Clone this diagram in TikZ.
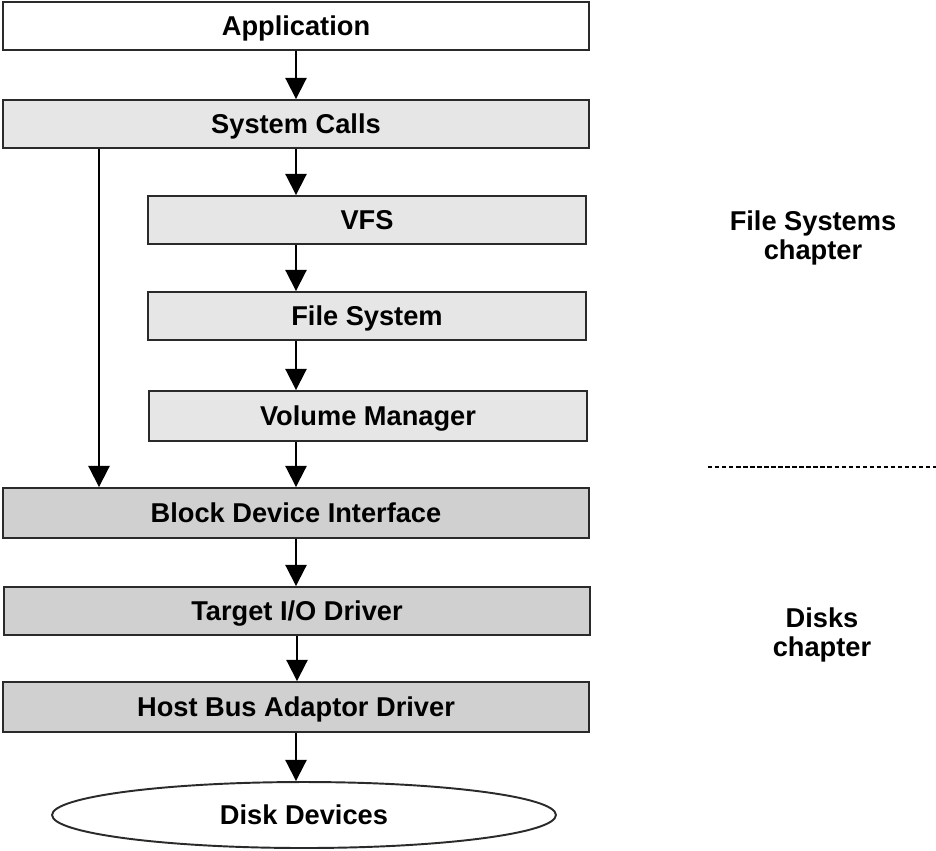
\documentclass[tikz,border=0pt]{standalone}
\usepackage{fontspec}
\setmainfont{Liberation Sans}
\usepackage{tikz}
\usetikzlibrary{arrows.meta,shapes.geometric}
\definecolor{layerlight}{HTML}{E6E6E6}
\definecolor{layerdark}{HTML}{D0D0D0}
\definecolor{edgegray}{HTML}{2A2A2A}
\tikzset{
  layertext/.style={font=\fontsize{15.5}{17}\selectfont\bfseries, text height=11.1pt, text depth=0pt},
  layer/.style={layertext, draw=edgegray, line width=1.1pt, minimum height=0.96cm, inner sep=0pt},
  wide/.style={layer, minimum width=11.72cm},
  narrow/.style={layer, minimum width=8.78cm},
  flow/.style={line width=1.1pt, -{Triangle[width=12pt,length=12pt]}},
  chapterlabel/.style={align=center, font=\fontsize{15.5}{17}\selectfont\bfseries}
}

\begin{document}
\begin{tikzpicture}[x=0.02cm,y=-0.02cm]
%%Location
\useasboundingbox (0,0) rectangle (936,850);
%%Layers
\node[wide, fill=white] (app) at (296,26) {Application};
\node[wide, fill=layerlight] (sys) at (296,124) {System Calls};
\node[narrow, fill=layerlight] (vfs) at (367,220) {VFS};
\node[narrow, fill=layerlight] (fs) at (367,316) {File System};
\node[narrow, fill=layerlight, minimum height=1cm] (vm) at (368,416) {Volume Manager};
\node[wide, fill=layerdark, minimum height=1cm] (bdi) at (296,513) {Block Device Interface};
\node[wide, fill=layerdark] (tio) at (297,611) {Target I/O Driver};
\node[wide, fill=layerdark, minimum height=1cm] (hba) at (296,707) {Host Bus Adaptor Driver};
\node[ellipse, layertext, draw=edgegray, line width=1.1pt, fill=white, minimum width=10.08cm,
  minimum height=1.32cm, inner sep=0pt] (disk) at (304,815) {Disk Devices};

%%Arrows
\draw[flow] (app.south) -- (sys.north);
\draw[flow] (sys.south) -- (sys.south |- vfs.north);
\draw[flow] (vfs.south -| sys.south) -- (fs.north -| sys.south);
\draw[flow] (fs.south -| sys.south) -- (vm.north -| sys.south);
\draw[flow] (vm.south -| sys.south) -- (bdi.north -| sys.south);
\draw[flow] (bdi.south) -- (tio.north -| bdi.south);
\draw[flow] (tio.south) -- (hba.north -| tio.south);
\draw[flow] (hba.south) -- (disk.north -| hba.south);
%%Bypass
\coordinate (bypass) at (99,124);
\draw[flow] (bypass |- sys.south) -- (bypass |- bdi.north);

%%Chapters
\node[chapterlabel] (fschap) at (813,238) {File Systems\\chapter};
\node[chapterlabel] (diskchap) at (822,635) {Disks\\chapter};
\coordinate (split-l) at (708,467);
\coordinate (split-r) at (936,467);
\draw[line width=0.7pt, dash pattern=on 2.5pt off 1.5pt] (split-l) -- (split-r);

\end{tikzpicture}
\end{document}
